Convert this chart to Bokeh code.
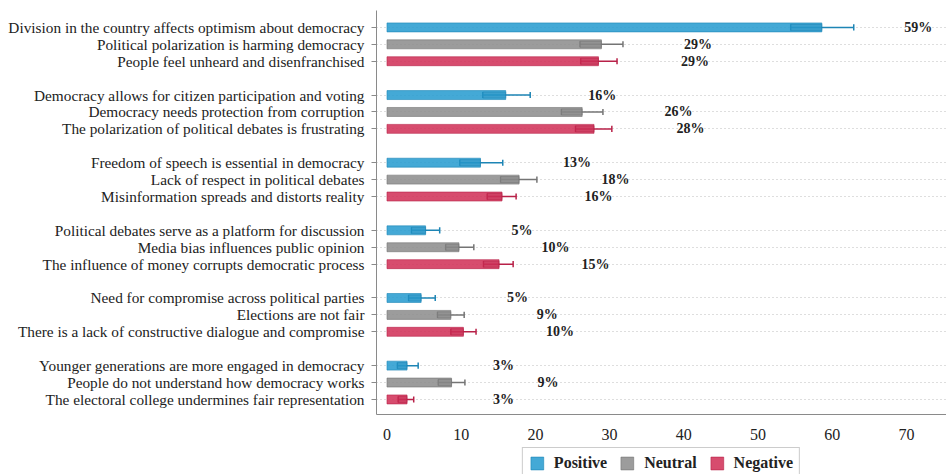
from bokeh.plotting import figure
from bokeh.layouts import column
from bokeh.models import Range1d, FixedTicker, ColumnDataSource, Legend, LegendItem
from bokeh.embed import file_html
from bokeh.resources import INLINE
from bokeh.core.properties import value

categories = [
    "Division in the country affects optimism about democracy",
    "Political polarization is harming democracy",
    "People feel unheard and disenfranchised",
    "Democracy allows for citizen participation and voting",
    "Democracy needs protection from corruption",
    "The polarization of political debates is frustrating",
    "Freedom of speech is essential in democracy",
    "Lack of respect in political debates",
    "Misinformation spreads and distorts reality",
    "Political debates serve as a platform for discussion",
    "Media bias influences public opinion",
    "The influence of money corrupts democratic process",
    "Need for compromise across political parties",
    "Elections are not fair",
    "There is a lack of constructive dialogue and compromise",
    "Younger generations are more engaged in democracy",
    "People do not understand how democracy works",
    "The electoral college undermines fair representation",
]
sentiments = ["Positive", "Neutral", "Negative"] * 6
means = [58.6, 28.9, 28.5, 16.0, 26.3, 27.9, 12.6, 17.8, 15.5,
         5.2, 9.7, 15.1, 4.6, 8.6, 10.3, 2.7, 8.7, 2.7]
lowers = [54.4, 26.0, 26.1, 12.9, 23.5, 25.4, 9.8, 15.3, 13.5,
          3.3, 7.9, 13.0, 2.9, 6.8, 8.6, 1.4, 6.9, 1.5]
uppers = [62.9, 31.8, 31.0, 19.3, 29.1, 30.3, 15.6, 20.2, 17.4,
          7.1, 11.7, 17.0, 6.5, 10.4, 12.0, 4.2, 10.5, 3.6]
pct_labels = ["59%", "29%", "29%", "16%", "26%", "28%", "13%", "18%", "16%",
              "5%", "10%", "15%", "5%", "9%", "10%", "3%", "9%", "3%"]
x_ticks = [0, 10, 20, 30, 40, 50, 60, 70]
legend_labels = ["Positive", "Neutral", "Negative"]

fill_colors = {"Positive": "#2a9dd0", "Neutral": "#8e8e8e", "Negative": "#d2335a"}
line_colors = {"Positive": "#1d85b5", "Neutral": "#747474", "Negative": "#b82148"}

ys = [i + i // 3 for i in range(len(categories))]
FONT = "Liberation Serif"

p = figure(width=946, height=447, output_backend="svg", toolbar_location=None,
           x_range=Range1d(-1.415, 75.4), y_range=Range1d(22.89, -1.0),
           min_border_left=376, min_border_right=0, min_border_top=10,
           min_border_bottom=33)
p.outline_line_color = None
p.background_fill_color = "white"

# grid
p.xgrid.visible = False
p.ygrid.ticker = FixedTicker(ticks=ys)
p.ygrid.grid_line_color = "#bdbdbd"
p.ygrid.grid_line_dash = "1 3"
p.ygrid.grid_line_width = 1

# axes
p.yaxis.ticker = FixedTicker(ticks=ys)
p.yaxis.major_label_overrides = {y: c for y, c in zip(ys, categories)}
p.yaxis.major_label_text_font = FONT
p.yaxis.major_label_text_font_size = "15.3px"
p.yaxis.major_label_text_color = "#222222"
p.yaxis.major_tick_out = 5
p.yaxis.major_tick_in = 0
p.yaxis.minor_tick_line_color = None
p.yaxis.axis_line_color = "#8a8a8a"
p.yaxis.major_tick_line_color = "#8a8a8a"
p.yaxis.major_label_standoff = 7

p.xaxis.ticker = FixedTicker(ticks=x_ticks)
p.xaxis.major_label_text_font = FONT
p.xaxis.major_label_text_font_size = "16px"
p.xaxis.major_label_text_color = "#222222"
p.xaxis.major_tick_out = 0
p.xaxis.major_tick_in = 0
p.xaxis.minor_tick_line_color = None
p.xaxis.axis_line_color = "#8a8a8a"
p.xaxis.major_label_standoff = 14

for s in legend_labels:
    idx = [i for i, v in enumerate(sentiments) if v == s]
    src = ColumnDataSource(dict(
        y=[ys[i] for i in idx],
        m=[means[i] for i in idx],
        lo=[lowers[i] for i in idx],
        hi=[uppers[i] for i in idx],
        ytop=[ys[i] - 0.18 for i in idx],
        ybot=[ys[i] + 0.18 for i in idx],
    ))
    lc = line_colors[s]
    p.segment(x0="lo", x1="hi", y0="y", y1="y", source=src, line_color=lc, line_width=1.5)
    p.segment(x0="lo", x1="lo", y0="ytop", y1="ybot", source=src, line_color=lc, line_width=1.5)
    p.segment(x0="hi", x1="hi", y0="ytop", y1="ybot", source=src, line_color=lc, line_width=1.5)
    p.hbar(y="y", left=0, right="m", height=0.53, source=src,
           fill_color=fill_colors[s], fill_alpha=0.88,
           line_color=lc, line_alpha=0.6, line_width=1)
    p.hbar(y="y", left="lo", right="m", height=0.36, source=src,
           fill_color=lc, fill_alpha=0.25, line_color=lc, line_alpha=0.5, line_width=1)

lab_src = ColumnDataSource(dict(x=[m + 13 for m in means], y=ys, t=pct_labels))
p.text(x="x", y="y", text="t", source=lab_src, text_align="center",
       text_baseline="middle", text_font=value(FONT), text_font_style="bold",
       text_font_size="14px", text_color="#222222")

# legend strip below the chart; the swatch carriers sit outside the strip's range
pl = figure(width=946, height=27, output_backend="svg", toolbar_location=None,
            x_range=Range1d(0, 1), y_range=Range1d(0, 1),
            min_border_left=376, min_border_right=0, min_border_top=0,
            min_border_bottom=0)
pl.axis.visible = False
pl.grid.visible = False
pl.outline_line_color = None
items = []
for s in legend_labels:
    r = pl.hbar(y=[-5], right=[-4], left=-5, height=0.5,
                fill_color=fill_colors[s], fill_alpha=0.88,
                line_color=line_colors[s], line_alpha=0.6, line_width=1)
    items.append(LegendItem(label=s, renderers=[r]))

legend = Legend(items=items, orientation="horizontal", location="top_center")
legend.label_text_font = FONT
legend.label_text_font_style = "bold"
legend.label_text_font_size = "16px"
legend.label_text_color = "#222222"
legend.glyph_width = 16
legend.glyph_height = 16
legend.label_standoff = 9
legend.spacing = 12
legend.padding = 6
legend.margin = 0
legend.border_line_color = "#9a9a9a"
legend.border_line_width = 1
legend.background_fill_color = "white"
pl.add_layout(legend, "center")

layout = column(p, pl, spacing=0)
open("out.html", "w").write(file_html(layout, INLINE))
